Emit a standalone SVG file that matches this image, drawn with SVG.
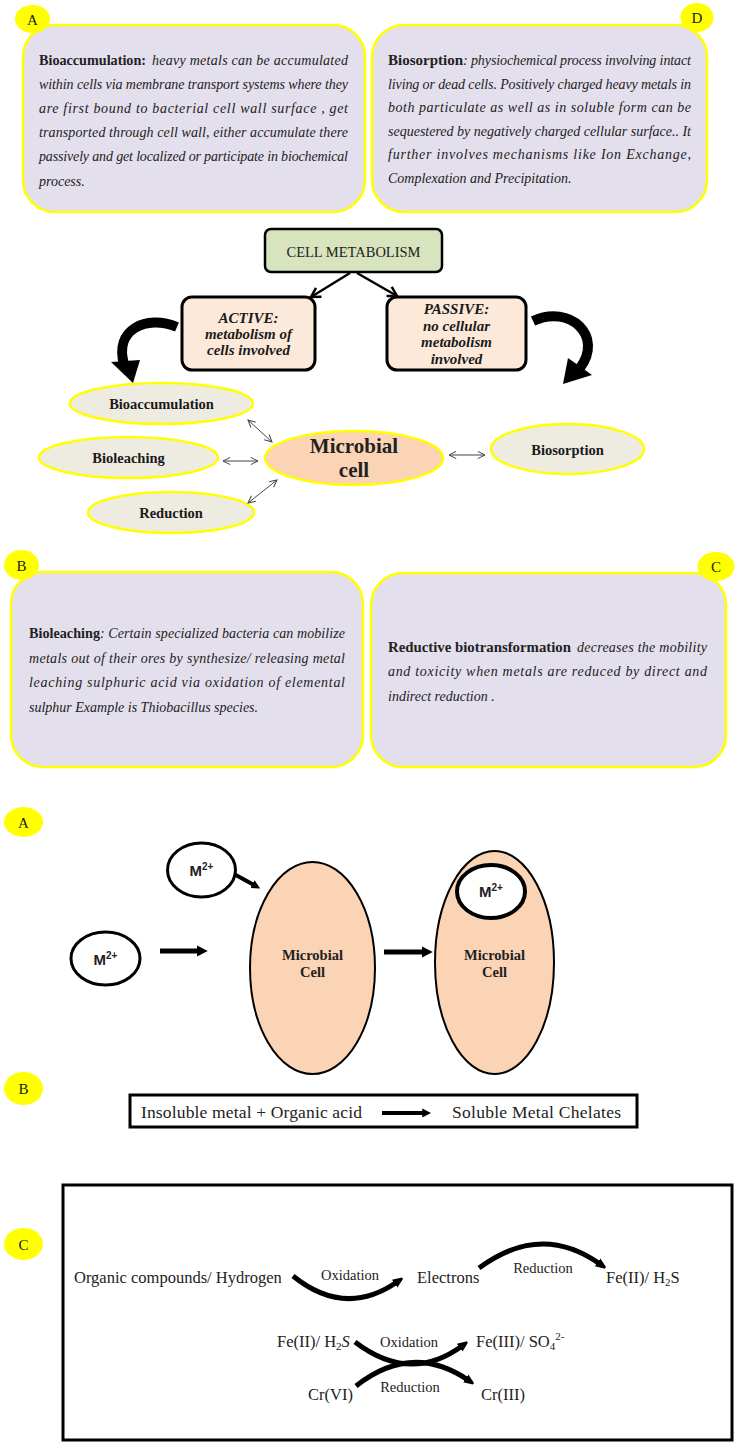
<svg xmlns="http://www.w3.org/2000/svg" width="738" height="1446" viewBox="0 0 738 1446">
<style>
.bg{fill:#ffffff}
.card{fill:#E4DFEC;stroke:#FFFF00;stroke-width:2.5}
.tag{fill:#FFFF00;stroke:none}
.tagt{font-family:'Liberation Serif','Times New Roman',serif;font-size:15px;fill:#222;text-anchor:middle}
.body{font-family:'Liberation Serif','Times New Roman',serif;font-size:14px;fill:#222}
.it{font-style:italic}
.bd{font-weight:bold}
.oval{fill:#EEECE1;stroke:#FFFF00;stroke-width:2.5}
.ovt{font-family:'Liberation Serif','Times New Roman',serif;font-size:14.5px;font-weight:bold;fill:#1a1a1a;text-anchor:middle}
.mid{font-family:'Liberation Serif','Times New Roman',serif;font-size:15px;font-weight:bold;font-style:italic;fill:#1a1a1a;text-anchor:middle}
.cell{fill:#FAD4B4;stroke:#000;stroke-width:2}
.ion{fill:#fff;stroke:#000;stroke-width:3}
.iont{font-family:'Liberation Sans',Arial,sans-serif;font-size:15px;font-weight:bold;fill:#222;text-anchor:middle}
.ser{font-family:'Liberation Serif','Times New Roman',serif;fill:#222}
.thin{stroke:#444;stroke-width:1;fill:none;marker-start:url(#oa);marker-end:url(#oa)}
.thick{stroke:#000;fill:none}
</style>
<defs>
<marker id="oa" viewBox="0 0 10 10" markerUnits="userSpaceOnUse" markerWidth="9" markerHeight="9" refX="9" refY="5" orient="auto-start-reverse">
<path d="M1,1 L9,5 L1,9" fill="none" stroke="#444" stroke-width="1.1"/>
</marker>
<marker id="ob" viewBox="0 0 10 10" markerUnits="userSpaceOnUse" markerWidth="13" markerHeight="13" refX="8.5" refY="5" orient="auto">
<path d="M1.5,1 L8.5,5 L1.5,9" fill="none" stroke="#000" stroke-width="1.9"/>
</marker>
<marker id="fa" viewBox="0 0 10 10" markerWidth="2.2" markerHeight="2.4" refX="2" refY="5" orient="auto">
<path d="M0,0 L10,5 L0,10 z" fill="#000"/>
</marker>
<marker id="fb" viewBox="0 0 10 10" markerWidth="1.9" markerHeight="2.1" refX="3" refY="5" orient="auto">
<path d="M0,0 L10,4 L10,6 L0,10 z" fill="#000"/>
</marker>
</defs>
<rect class="bg" x="0" y="0" width="738" height="1446"/>

<g id="card-A">
<rect class="card" x="23" y="25" width="342" height="187" rx="32"/>
<ellipse class="tag" cx="32.5" cy="19" rx="17.5" ry="14"/>
<text class="tagt" x="32.5" y="24.5">A</text>
<text class="body bd" x="39" y="65" textLength="107" lengthAdjust="spacingAndGlyphs">Bioaccumulation:</text>
<text class="body it" x="152" y="65" textLength="196" lengthAdjust="spacing">heavy metals can be accumulated</text>
<text class="body it" x="39" y="89" textLength="309" lengthAdjust="spacing">within cells via membrane transport systems where they</text>
<text class="body it" x="39" y="113" textLength="309" lengthAdjust="spacing">are first bound to bacterial cell wall surface , get</text>
<text class="body it" x="39" y="137" textLength="309" lengthAdjust="spacing">transported through cell wall, either accumulate there</text>
<text class="body it" x="39" y="161" textLength="309" lengthAdjust="spacing">passively and get localized or participate in biochemical</text>
<text class="body it" x="39" y="186">process.</text>
</g>

<g id="card-D">
<rect class="card" x="372" y="25" width="335" height="187" rx="32"/>
<ellipse class="tag" cx="697" cy="17.5" rx="16.5" ry="14.5"/>
<text class="tagt" x="697" y="23">D</text>
<text class="body bd" x="388" y="65" textLength="75" lengthAdjust="spacingAndGlyphs">Biosorption</text>
<text class="body it" x="463" y="65" textLength="228" lengthAdjust="spacing">: physiochemical process involving intact</text>
<text class="body it" x="388" y="88.5" textLength="303" lengthAdjust="spacing">living or dead cells. Positively charged heavy metals in</text>
<text class="body it" x="388" y="112" textLength="303" lengthAdjust="spacing">both particulate as well as in soluble form can be</text>
<text class="body it" x="388" y="135.5" textLength="303" lengthAdjust="spacing">sequestered by negatively charged cellular surface..  It</text>
<text class="body it" x="388" y="159" textLength="303" lengthAdjust="spacing">further involves mechanisms like Ion Exchange,</text>
<text class="body it" x="388" y="182.5">Complexation and Precipitation.</text>
</g>

<g id="cell-metabolism">
<rect x="265" y="229" width="177" height="43" rx="6" fill="#D7E4BD" stroke="#000" stroke-width="2.5"/>
<text class="ser" x="353.5" y="257" font-size="14.5" text-anchor="middle">CELL METABOLISM</text>
</g>

<g id="active">
<rect x="182" y="297" width="133" height="73" rx="10" fill="#FDE9D9" stroke="#000" stroke-width="3"/>
<text class="mid" x="248.5" y="323">ACTIVE:</text>
<text class="mid" x="248.5" y="339">metabolism of</text>
<text class="mid" x="248.5" y="355">cells involved</text>
</g>

<g id="passive">
<rect x="387" y="297" width="139" height="73" rx="10" fill="#FDE9D9" stroke="#000" stroke-width="3"/>
<text class="mid" x="456.5" y="314">PASSIVE:</text>
<text class="mid" x="456.5" y="331">no cellular</text>
<text class="mid" x="456.5" y="347">metabolism</text>
<text class="mid" x="456.5" y="364">involved</text>
</g>

<g id="bioaccumulation">
<ellipse class="oval" cx="161.5" cy="403.5" rx="91.5" ry="20.5"/>
<text class="ovt" x="161.5" y="408.5">Bioaccumulation</text>
</g>
<g id="bioleaching">
<ellipse class="oval" cx="128.5" cy="457.5" rx="89.5" ry="20.5"/>
<text class="ovt" x="128.5" y="463">Bioleaching</text>
</g>
<g id="reduction">
<ellipse class="oval" cx="171" cy="512.5" rx="83" ry="20.5"/>
<text class="ovt" x="171" y="518">Reduction</text>
</g>
<g id="microbial-cell">
<ellipse cx="354" cy="458" rx="89" ry="27" fill="#FAD4B4" stroke="#FFFF00" stroke-width="2.5"/>
<text class="ser" x="354" y="453" font-size="21" font-weight="bold" text-anchor="middle">Microbial</text>
<text class="ser" x="354" y="477" font-size="21" font-weight="bold" text-anchor="middle">cell</text>
</g>
<g id="biosorption">
<ellipse class="oval" cx="567.5" cy="449" rx="76.5" ry="25"/>
<text class="ovt" x="567.5" y="455">Biosorption</text>
</g>

<g id="card-B">
<rect class="card" x="11" y="572" width="352" height="195" rx="32"/>
<ellipse class="tag" cx="21.5" cy="565" rx="17.5" ry="15"/>
<text class="tagt" x="21.5" y="570.5">B</text>
<text class="body bd" x="29" y="638" textLength="71" lengthAdjust="spacingAndGlyphs">Bioleaching</text>
<text class="body it" x="100" y="638" textLength="245" lengthAdjust="spacing">: Certain specialized bacteria can mobilize</text>
<text class="body it" x="29" y="662.5" textLength="316" lengthAdjust="spacing">metals out of their ores by synthesize/ releasing metal</text>
<text class="body it" x="29" y="687" textLength="316" lengthAdjust="spacing">leaching sulphuric acid via oxidation of elemental</text>
<text class="body it" x="29" y="711.5">sulphur  Example is Thiobacillus species.</text>
</g>

<g id="card-C">
<rect class="card" x="371" y="573" width="355" height="194" rx="32"/>
<ellipse class="tag" cx="716" cy="566.5" rx="18.5" ry="14.5"/>
<text class="tagt" x="716" y="572">C</text>
<text class="body bd" x="388" y="652" textLength="183" lengthAdjust="spacingAndGlyphs">Reductive biotransformation</text>
<text class="body it" x="577" y="652" textLength="130" lengthAdjust="spacing">decreases the mobility</text>
<text class="body it" x="388" y="676" textLength="319" lengthAdjust="spacing">and toxicity when metals are reduced by direct and</text>
<text class="body it" x="388" y="701">indirect reduction .</text>
</g>

<g id="connectors">
<line x1="350" y1="273" x2="311" y2="297" stroke="#000" stroke-width="2.5" marker-end="url(#ob)"/>
<line x1="357" y1="273" x2="397" y2="296" stroke="#000" stroke-width="2.5" marker-end="url(#ob)"/>
<path d="M177 327 C146 314 114 330 124 364" fill="none" stroke="#000" stroke-width="10"/>
<polygon points="111,362 140,360 133,383" fill="#000"/>
<path d="M533 321 C570 304 604 336 580 368" fill="none" stroke="#000" stroke-width="10"/>
<polygon points="568,358 592,375 563,384" fill="#000"/>
<line class="thin" x1="248" y1="420" x2="272" y2="442"/>
<line class="thin" x1="223" y1="461" x2="258" y2="461"/>
<line class="thin" x1="248" y1="503" x2="277" y2="480"/>
<line class="thin" x1="449" y1="455" x2="485" y2="455"/>
</g>

<g id="label-A2">
<ellipse class="tag" cx="23.5" cy="822" rx="19.5" ry="15"/>
<text class="tagt" x="23.5" y="827.5">A</text>
</g>
<g id="ion-top">
<ellipse class="ion" cx="201.5" cy="870" rx="34" ry="27"/>
<text class="iont" x="201.5" y="876">M<tspan font-size="10" dy="-6">2+</tspan></text>
</g>
<g id="ion-left">
<ellipse class="ion" cx="105.5" cy="958.5" rx="34.5" ry="26.5"/>
<text class="iont" x="105.5" y="964.5">M<tspan font-size="10" dy="-6">2+</tspan></text>
</g>
<g id="cell-1">
<ellipse class="cell" cx="312.5" cy="968" rx="62.5" ry="106"/>
<text class="ser" x="312.5" y="960" font-size="14.5" font-weight="bold" text-anchor="middle">Microbial</text>
<text class="ser" x="312.5" y="977" font-size="14.5" font-weight="bold" text-anchor="middle">Cell</text>
</g>
<g id="cell-2">
<ellipse class="cell" cx="494.5" cy="962.5" rx="59.5" ry="111.5"/>
<ellipse cx="491" cy="891.5" rx="34" ry="26.5" fill="#fff" stroke="#000" stroke-width="4"/>
<text class="iont" x="491" y="897">M<tspan font-size="10" dy="-6">2+</tspan></text>
<text class="ser" x="494.5" y="960" font-size="14.5" font-weight="bold" text-anchor="middle">Microbial</text>
<text class="ser" x="494.5" y="977" font-size="14.5" font-weight="bold" text-anchor="middle">Cell</text>
</g>
<g id="connectors-A2">
<line x1="160" y1="951" x2="199" y2="951" class="thick" stroke-width="5" marker-end="url(#fa)"/>
<line x1="234" y1="874" x2="254" y2="885" class="thick" stroke-width="4" marker-end="url(#fa)"/>
<line x1="384" y1="952" x2="424" y2="952" class="thick" stroke-width="5" marker-end="url(#fa)"/>
</g>

<g id="label-B2">
<ellipse class="tag" cx="23.5" cy="1088.5" rx="19.5" ry="16.5"/>
<text class="tagt" x="23.5" y="1094">B</text>
</g>
<g id="chelation">
<rect x="130" y="1095" width="507" height="32" fill="#fff" stroke="#000" stroke-width="3"/>
<text class="ser" x="141" y="1118" font-size="17.5" textLength="221" lengthAdjust="spacing">Insoluble metal + Organic acid</text>
<line x1="382" y1="1113" x2="424" y2="1113" class="thick" stroke-width="4" marker-end="url(#fa)"/>
<text class="ser" x="452" y="1118" font-size="17.5" textLength="169" lengthAdjust="spacing">Soluble  Metal Chelates</text>
</g>

<g id="label-C2">
<ellipse class="tag" cx="23.5" cy="1244" rx="19.5" ry="16"/>
<text class="tagt" x="23.5" y="1249.5">C</text>
</g>
<g id="redox">
<rect x="63" y="1185" width="669" height="255" fill="#fff" stroke="#000" stroke-width="3"/>
<text class="ser" x="74" y="1283" font-size="16.5">Organic compounds/ Hydrogen</text>
<text class="ser" x="350" y="1280" font-size="14.5" text-anchor="middle">Oxidation</text>
<text class="ser" x="417" y="1283" font-size="16.5">Electrons</text>
<text class="ser" x="543" y="1273" font-size="14.5" text-anchor="middle">Reduction</text>
<text class="ser" x="606" y="1283" font-size="16.5">Fe(II)/ H<tspan font-size="11" dy="3">2</tspan><tspan dy="-3">S</tspan></text>
<text class="ser" x="277" y="1347" font-size="16.5">Fe(II)/ H<tspan font-size="11" dy="3">2</tspan><tspan dy="-3" font-style="italic">S</tspan></text>
<text class="ser" x="409" y="1347" font-size="14.5" text-anchor="middle">Oxidation</text>
<text class="ser" x="476" y="1347" font-size="16.5">Fe(III)/ SO<tspan font-size="11" dy="3">4</tspan><tspan font-size="11" dy="-10">2-</tspan></text>
<text class="ser" x="308" y="1400" font-size="16.5">Cr(VI)</text>
<text class="ser" x="410" y="1392" font-size="14.5" text-anchor="middle">Reduction</text>
<text class="ser" x="481" y="1400" font-size="16.5">Cr(III)</text>
</g>
<g id="connectors-C2">
<path d="M293 1276 Q345 1318 397 1282" class="thick" stroke-width="5" marker-end="url(#fb)"/>
<path d="M479 1268 Q541 1222 600 1264" class="thick" stroke-width="5" marker-end="url(#fb)"/>
<path d="M355 1342 Q410 1384 462 1346" class="thick" stroke-width="5" marker-end="url(#fb)"/>
<path d="M356 1386 Q412 1342 468 1380" class="thick" stroke-width="5" marker-end="url(#fb)"/>
</g>
</svg>
